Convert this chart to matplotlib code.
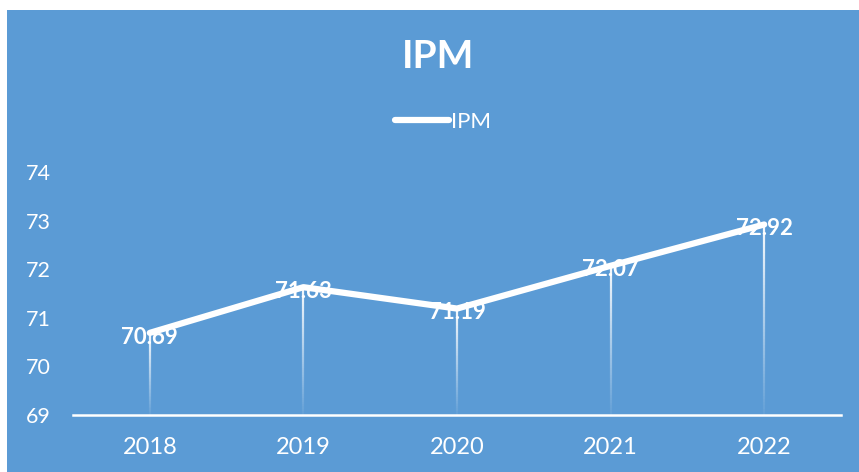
import matplotlib
matplotlib.use("Agg")
import matplotlib.pyplot as plt
import numpy as np
from matplotlib.collections import LineCollection
from matplotlib.patches import Rectangle

years = ["2018", "2019", "2020", "2021", "2022"]
ipm = [70.69, 71.63, 71.19, 72.07, 72.92]
y_ticks = [69, 70, 71, 72, 73, 74]
series_name = "IPM"
title = "IPM"

BLUE = "#5B9BD5"
plt.rcParams['font.family'] = ['Lato', 'DejaVu Sans']

W, H = 859, 472
fig = plt.figure(figsize=(W / 100, H / 100), dpi=100)
fig.patch.set_facecolor("white")
fig.add_artist(Rectangle((7 / W, 0), 1 - 7 / W, (H - 10) / H, transform=fig.transFigure,
                         facecolor=BLUE, edgecolor="none", zorder=0))

ax = fig.add_axes([73 / W, (H - 415) / H, (841 - 73) / W, (415 - 172) / H])
ax.set_facecolor("none")
x = np.arange(len(years))

# drop lines with gradient
for xi, yi in zip(x, ipm):
    n = 60
    ys = np.linspace(y_ticks[0], yi, n + 1)
    segs = [[(xi, ys[k]), (xi, ys[k + 1])] for k in range(n)]
    alphas = np.linspace(0.05, 0.95, n)
    cols = [(1, 1, 1, a) for a in alphas]
    ax.add_collection(LineCollection(segs, colors=cols, linewidths=1.6, zorder=2))

line, = ax.plot(x, ipm, color="white", lw=4.5, solid_capstyle="round",
                solid_joinstyle="round", zorder=3, label=series_name)

for xi, yi in zip(x, ipm):
    ax.annotate(f"{yi:.2f}", (xi, yi), xytext=(0, -3), textcoords="offset points",
                ha="center", va="center", color="white",
                fontsize=16, fontweight="bold", zorder=4)

ax.set_xlim(-0.5, len(years) - 0.5)
ax.set_ylim(y_ticks[0], y_ticks[-1])
ax.set_yticks(y_ticks)
ax.set_xticks(x)
ax.set_xticklabels(years)
ax.tick_params(axis="both", length=0, colors="white", labelsize=15.5)
ax.tick_params(axis="y", pad=16)
ax.tick_params(axis="x", pad=16)
for lbl in ax.get_xticklabels():
    lbl.set_fontsize(17)
for s in ["top", "right", "left"]:
    ax.spines[s].set_visible(False)
ax.spines["bottom"].set_color("white")
ax.spines["bottom"].set_linewidth(1.8)

fig.text(438 / W, 1 - 57 / H, title, ha="center", va="center", color="white",
         fontsize=28, fontweight="bold")

leg = fig.legend(handles=[line], loc="center", bbox_to_anchor=(443 / W, 1 - 122 / H),
                 frameon=False, fontsize=16, labelcolor="white", handlelength=2.4,
                 handletextpad=0.1)

fig.savefig("out.png", dpi=100)
